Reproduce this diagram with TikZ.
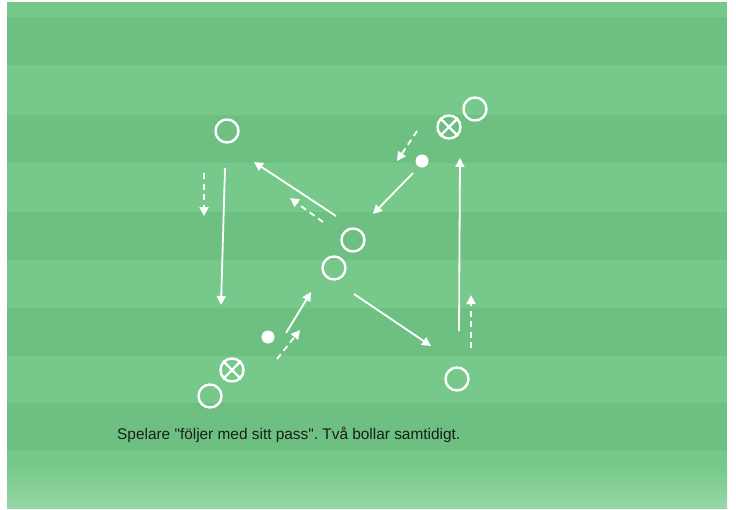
\documentclass[tikz,border=0pt]{standalone}
\usepackage{fontspec}
\setmainfont{Liberation Sans}[Ligatures=TeXOff]
\usetikzlibrary{arrows.meta,positioning}
\definecolor{fieldlight}{RGB}{118,201,138}
\definecolor{fielddark}{RGB}{110,192,130}
\definecolor{fieldpale}{RGB}{150,215,166}
\definecolor{notetext}{RGB}{25,30,25}
\tikzset{
  player/.style={draw=white,circle,line width=2.4pt,minimum size=23pt,inner sep=0pt},
  ball/.style={fill=white,circle,minimum size=13pt,inner sep=0pt},
  pass/.style={draw=white,line width=1.8pt,-{Triangle[width=9pt,length=9pt]}},
  run/.style={pass,dash pattern=on 6pt off 4.5pt}
}

\begin{document}
\frenchspacing
\begin{tikzpicture}[x=1pt,y=-1pt]
            \useasboundingbox (0,0) rectangle (736,509);
            % Draw the pitch with its stripes
            \fill[white] (0,0) rectangle (736,509);
            \fill[fieldlight] (7,2) rectangle (727,508);
            \foreach \y in {17,115,212,308,403}
              \fill[fielddark] (7,\y) rectangle (727,\y+48);
            \shade[top color=fieldlight,bottom color=fieldpale] (7,466) rectangle (727,508);
            % Players and balls
            \node[player] (pNW) at (227,131) {};
            \node[player] (pNE) at (475,109) {};
            \node[player] (xNE) at (449,127) {};
            \draw[white,line width=2.2pt] (xNE.45) -- (xNE.225) (xNE.135) -- (xNE.315);
            \node[ball] (bNE) at (422,161) {};
            \node[player] (pMidA) at (353,240) {};
            \node[player] (pMidB) at (334,268) {};
            \node[player] (xSW) at (232,370) {};
            \draw[white,line width=2.2pt] (xSW.45) -- (xSW.225) (xSW.135) -- (xSW.315);
            \node[player] (pSW) at (210,396) {};
            \node[ball] (bSW) at (268,337) {};
            \node[player] (pSE) at (457,379) {};
            % End points of passes and runs
            \coordinate (passWs) at (225,168);  \coordinate (passWe) at (221,305);
            \coordinate (runWs) at (204,173);   \coordinate (runWe) at (204,216);
            \coordinate (passNWs) at (336,216); \coordinate (passNWe) at (254,162);
            \coordinate (runNWs) at (323,222);  \coordinate (runNWe) at (290,198);
            \coordinate (passNEs) at (413,173); \coordinate (passNEe) at (373,214);
            \coordinate (runNEs) at (417,131);  \coordinate (runNEe) at (397,161);
            \coordinate (passEs) at (459,331);  \coordinate (passEe) at (460,158);
            \coordinate (runEs) at (471,348);   \coordinate (runEe) at (471,295);
            \coordinate (passSEs) at (354,294); \coordinate (passSEe) at (431,346);
            \coordinate (passSWs) at (286,333); \coordinate (passSWe) at (311,292);
            \coordinate (runSWs) at (277,359);  \coordinate (runSWe) at (300,330);
            % Passes (solid) and runs (dashed)
            \draw[pass] (passWs) -- (passWe);
            \draw[run] (runWs) -- (runWe);
            \draw[pass] (passNWs) -- (passNWe);
            \draw[run] (runNWs) -- (runNWe);
            \draw[pass] (passNEs) -- (passNEe);
            \draw[run] (runNEs) -- (runNEe);
            \draw[pass] (passEs) -- (passEe);
            \draw[run] (runEs) -- (runEe);
            \draw[pass] (passSEs) -- (passSEe);
            \draw[pass] (passSWs) -- (passSWe);
            \draw[run] (runSWs) -- (runSWe);
            % Note under the drill
            \node[anchor=base west,inner sep=0pt,text=notetext,font=\fontsize{15.4}{18}\selectfont] (note) at (117,439) {Spelare "följer med sitt pass". Två bollar samtidigt.};
\end{tikzpicture}
\end{document}
